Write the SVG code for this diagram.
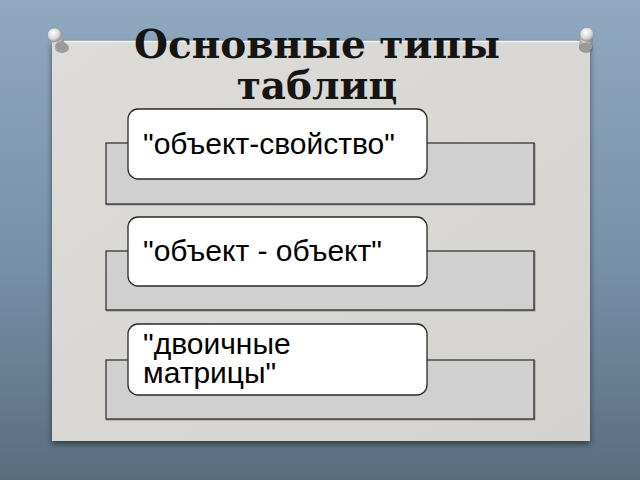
<svg xmlns="http://www.w3.org/2000/svg" width="640" height="480" viewBox="0 0 640 480">
<defs>
<linearGradient id="bg" x1="0" y1="0" x2="0" y2="1">
<stop offset="0" stop-color="#90a9c0"/>
<stop offset="0.55" stop-color="#7690a8"/>
<stop offset="1" stop-color="#5a6d7f"/>
</linearGradient>
<linearGradient id="panel" x1="0" y1="0" x2="1" y2="1">
<stop offset="0" stop-color="#dddcd9"/>
<stop offset="1" stop-color="#d5d3cf"/>
</linearGradient>
<radialGradient id="head" cx="0.4" cy="0.35" r="0.7">
<stop offset="0" stop-color="#ffffff"/>
<stop offset="0.6" stop-color="#d8d8d8"/>
<stop offset="1" stop-color="#8a8a8a"/>
</radialGradient>
<linearGradient id="shaft" x1="0" y1="0" x2="1" y2="0">
<stop offset="0" stop-color="#9a9a9a"/>
<stop offset="0.4" stop-color="#e8e8e8"/>
<stop offset="1" stop-color="#7a7a7a"/>
</linearGradient>
<filter id="sh" x="-10%" y="-10%" width="120%" height="130%">
<feGaussianBlur in="SourceAlpha" stdDeviation="3"/>
<feOffset dx="0" dy="3"/>
<feComponentTransfer><feFuncA type="linear" slope="0.5"/></feComponentTransfer>
<feMerge><feMergeNode/><feMergeNode in="SourceGraphic"/></feMerge>
</filter>
</defs>
<style>
.tbl{fill:#d0d0d0;stroke:#2a2a2a;stroke-width:1.2}
.tsh{fill:none;stroke:#555;stroke-width:1.5}
.lbl{fill:#ffffff;stroke:#2a2a2a;stroke-width:1.3}
.txt{font-family:"Liberation Sans",Arial,sans-serif;font-size:30px;fill:#000}
.title{font-family:"DejaVu Serif",serif;font-weight:bold;font-size:39px;fill:#151515}
</style>
<rect x="0" y="0" width="640" height="480" fill="url(#bg)"/>
<rect x="52" y="41" width="538" height="400" fill="url(#panel)" filter="url(#sh)"/>
<line x1="52" y1="41.5" x2="590" y2="41.5" stroke="#f4f4f4" stroke-width="1.5"/>
<g id="pin-left">
<ellipse cx="62" cy="48" rx="7" ry="5" fill="#555" opacity="0.45"/>
<path d="M49,36 L60,33 L66,46 Q62,51 56,49 Z" fill="url(#shaft)"/>
<ellipse cx="61" cy="46" rx="6" ry="4.5" fill="#9a9a9a"/>
<circle cx="54.5" cy="35" r="7" fill="url(#head)" stroke="#888" stroke-width="0.5"/>
</g>
<g id="pin-right">
<ellipse cx="586" cy="48" rx="7" ry="5" fill="#555" opacity="0.45"/>
<path d="M580,36 L593,35 L592,48 Q586,52 579,48 Z" fill="url(#shaft)"/>
<ellipse cx="585.5" cy="47" rx="6.5" ry="4.5" fill="#9a9a9a"/>
<circle cx="587" cy="34.5" r="7" fill="url(#head)" stroke="#888" stroke-width="0.5"/>
</g>
<g id="title">
<text class="title" x="317" y="58" text-anchor="middle">Основные типы</text>
<text class="title" x="317" y="99" text-anchor="middle">таблиц</text>
</g>
<g id="node1">
<rect class="tbl" x="106" y="143" width="428" height="61"/>
<polyline class="tsh" points="106,204.5 534.5,204.5 534.5,143"/>
<rect class="lbl" x="128" y="109" width="299" height="70" rx="10"/>
<text class="txt" x="143" y="154">"объект-свойство"</text>
</g>
<g id="node2">
<rect class="tbl" x="106" y="251" width="428" height="59"/>
<polyline class="tsh" points="106,310.5 534.5,310.5 534.5,251"/>
<rect class="lbl" x="128" y="217" width="299" height="69" rx="10"/>
<text class="txt" x="143" y="261">"объект - объект"</text>
</g>
<g id="node3">
<rect class="tbl" x="106" y="360" width="428" height="59"/>
<polyline class="tsh" points="106,419.5 534.5,419.5 534.5,360"/>
<rect class="lbl" x="128" y="324" width="299" height="71" rx="10"/>
<text class="txt" x="143" y="354">"двоичные</text>
<text class="txt" x="143" y="383">матрицы"</text>
</g>
<g id="connectors"/>
</svg>
